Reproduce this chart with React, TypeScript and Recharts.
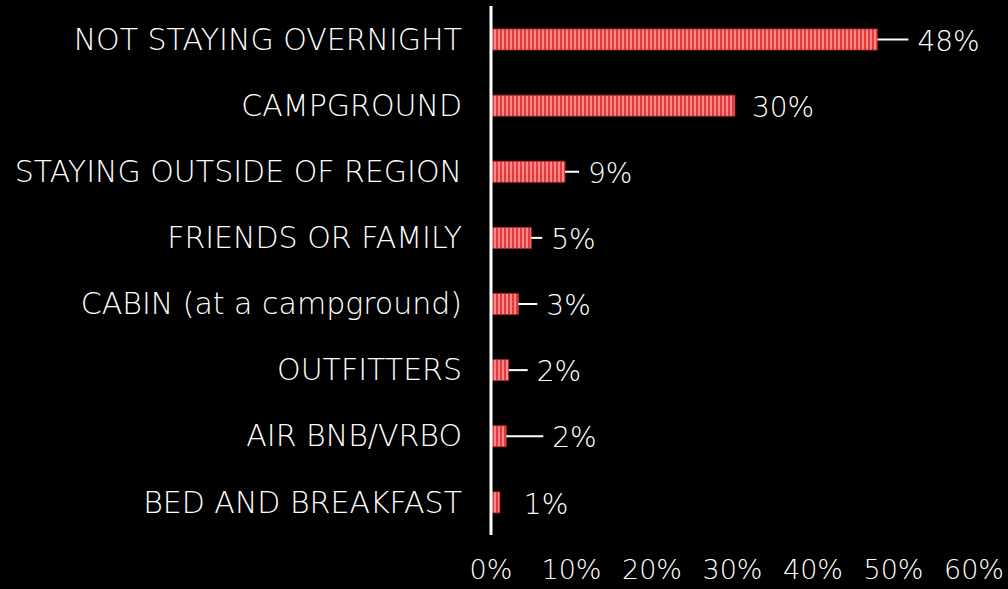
import { BarChart, Bar, XAxis, YAxis, LabelList } from 'recharts';

const categories = [
  'NOT STAYING OVERNIGHT',
  'CAMPGROUND',
  'STAYING OUTSIDE OF REGION',
  'FRIENDS OR FAMILY',
  'CABIN (at a campground)',
  'OUTFITTERS',
  'AIR BNB/VRBO',
  'BED AND BREAKFAST',
];
const shares = [48, 30.3, 9.2, 5, 3.4, 2.2, 1.9, 1.1];
const xTicks = [0, 10, 20, 30, 40, 50, 60];

// label placement (px from bar end), leader line drawn when moved away
const labelGap = [40, 17, 23, 20, 28, 28, 46, 24];
const hasLeader = [true, false, true, true, true, true, true, false];

const data = categories.map((name, i) => ({ name, value: shares[i] }));

const FONT = "'DejaVu Sans', sans-serif";

const ValueLabel = (props: any) => {
  const { x, y, width, height, value, index } = props;
  const end = x + width;
  const cy = y + height / 2;
  const gap = labelGap[index];
  return (
    <g>
      {hasLeader[index] && (
        <line x1={end} y1={cy} x2={end + gap - 9} y2={cy} stroke="#fff" strokeWidth={2} />
      )}
      <text
        x={end + gap}
        y={cy}
        dy="0.4em"
        fill="#fff"
        fontSize={28}
        fontFamily={FONT}
        fontWeight={200}
      >
        {`${Math.round(value)}%`}
      </text>
    </g>
  );
};

export default function App() {
  return (
    <div style={{ width: 1008, height: 589, background: '#000' }}>
      <style>{'body{margin:0;background:#000}'}</style>
      <BarChart
        width={1008}
        height={589}
        data={data}
        layout="vertical"
        margin={{ top: 6, right: 34, left: 0, bottom: 0 }}
        barCategoryGap={0}
      >
        <defs>
          <pattern id="stripes" patternUnits="userSpaceOnUse" width={4} height={8}>
            <rect width={4} height={8} fill="#e6393b" />
            <rect x={2} width={2} height={8} fill="#f48a89" />
          </pattern>
        </defs>
        <XAxis
          type="number"
          domain={[0, 60]}
          ticks={xTicks}
          tickFormatter={(v) => `${v}%`}
          axisLine={false}
          tickLine={false}
          height={54}
          tickMargin={19}
          tick={{ fill: '#fff', fontSize: 27, fontFamily: FONT, fontWeight: 200 }}
        />
        <YAxis
          type="category"
          dataKey="name"
          width={491}
          axisLine={{ stroke: '#fff', strokeWidth: 3 }}
          tickLine={false}
          tickSize={0}
          tickMargin={29}
          interval={0}
          tick={{ fill: '#fff', fontSize: 30, fontFamily: FONT, fontWeight: 200 }}
        />
        <Bar
          dataKey="value"
          barSize={21}
          fill="url(#stripes)"
          stroke="#b8282a"
          strokeWidth={0.8}
          isAnimationActive={false}
        >
          <LabelList dataKey="value" content={ValueLabel} />
        </Bar>
      </BarChart>
    </div>
  );
}
